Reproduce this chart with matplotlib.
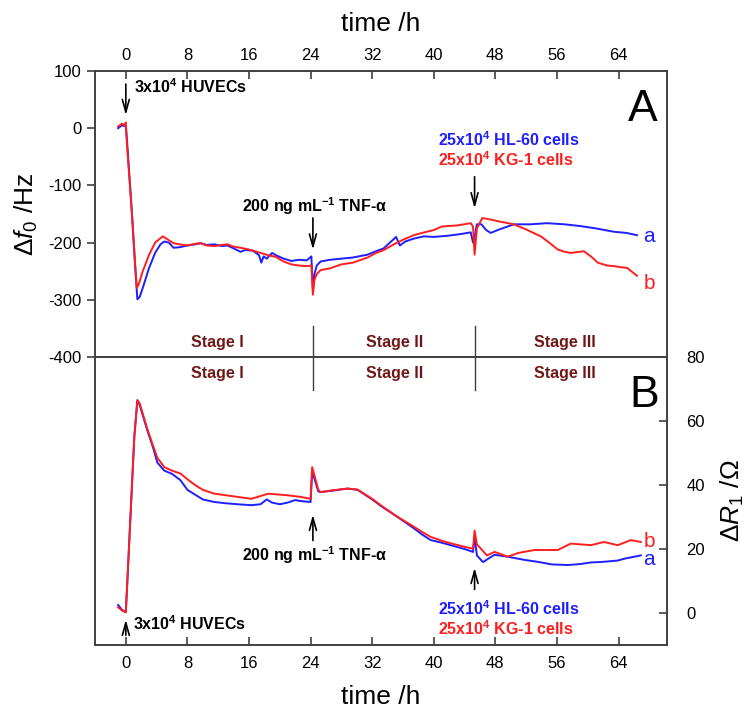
import numpy as np
import matplotlib
matplotlib.use('Agg')
import matplotlib.pyplot as plt

plt.rcParams['font.family'] = ['Liberation Sans', 'DejaVu Sans']
plt.rcParams['mathtext.fontset'] = 'custom'
plt.rcParams['mathtext.rm'] = 'Liberation Sans'
plt.rcParams['mathtext.it'] = 'Liberation Sans:italic'
plt.rcParams['mathtext.bf'] = 'Liberation Sans:bold'
plt.rcParams['axes.unicode_minus'] = False

# Panel A: frequency shift (Hz)
t_fa = [-1.0, -0.5, 0.0, 0.15, 0.4, 0.8, 1.2, 1.5, 1.8, 2.3, 3.0, 3.8, 4.5, 5.0, 5.6, 6.2,
        7.0, 8.0, 9.0, 9.7, 10.5, 11.5, 12.5, 13.2, 14.0, 14.9, 15.5, 16.5, 17.3, 17.6,
        17.9, 18.3, 19.0, 19.5, 20.5, 21.5, 22.5, 23.5, 24.1, 24.3, 24.5, 24.8, 25.3,
        26.5, 28.0, 29.5, 31.4, 32.5, 33.5, 34.3, 35.1, 35.6, 36.3, 37.4, 38.7, 40.0,
        41.8, 43.5, 44.8, 45.1, 45.3, 45.6, 46.2, 46.8, 47.4, 48.5, 50.4, 52.5, 54.7,
        57.0, 59.0, 61.0, 63.4, 65.0, 66.4]
f_a = [0, 5, 3, -20, -70, -150, -240, -299, -295, -275, -245, -218, -203, -198, -200, -209,
       -208, -205, -203, -201, -204, -203, -206, -205, -210, -216, -213, -214, -222, -235,
       -224, -228, -218, -222, -228, -232, -230, -231, -224, -283, -255, -240, -233,
       -230, -228, -226, -221, -215, -210, -200, -190, -205, -198, -193, -189, -190,
       -188, -185, -182, -200, -190, -168, -168, -178, -183, -177, -168, -168, -166,
       -168, -171, -175, -181, -183, -187]

t_fb = [-1.0, -0.5, -0.2, 0.0, 0.15, 0.4, 0.8, 1.2, 1.43, 1.7, 2.2, 3.0, 3.8, 4.8, 5.5, 6.2,
        7.0, 8.0, 9.0, 9.7, 10.5, 11.5, 12.5, 13.2, 14.0, 14.9, 16.0, 17.5, 18.5, 19.5,
        20.5, 21.5, 22.5, 23.5, 24.1, 24.3, 24.5, 24.8, 25.3, 26.5, 28.0, 29.5, 31.4,
        32.5, 33.5, 34.8, 36.0, 37.4, 38.5, 40.0, 41.0, 41.8, 43.0, 44.8, 45.1, 45.3,
        45.6, 46.3, 47.5, 48.5, 50.4, 52.0, 53.9, 55.0, 56.1, 57.0, 57.8, 59.5, 60.5,
        61.3, 62.5, 63.4, 64.3, 65.1, 66.4]
f_b = [3, 8, 5, 10, -30, -75, -150, -235, -279, -272, -250, -222, -200, -189, -195, -201,
       -203, -205, -202, -201, -205, -206, -204, -203, -207, -209, -212, -218, -222, -225,
       -233, -238, -240, -241, -240, -291, -265, -255, -248, -245, -238, -235, -226,
       -218, -213, -203, -195, -187, -183, -178, -172, -171, -170, -166, -172, -221,
       -175, -157, -160, -163, -168, -177, -189, -200, -212, -216, -218, -215, -225,
       -235, -240, -241, -243, -244, -258]

# Panel B: resistance shift (Ohm)
t_ra = [-1.0, -0.5, 0.0, 0.3, 0.7, 1.1, 1.5, 1.8, 2.3, 2.8, 3.5, 4.1, 5.0, 6.0, 7.1, 8.0,
        9.0, 10.0, 11.5, 13.0, 14.5, 16.3, 17.5, 18.3, 19.0, 20.0, 21.0, 22.0, 22.7, 24.0,
        24.2, 24.5, 25.0, 25.3, 27.0, 28.8, 30.1, 32.0, 33.1, 35.0, 37.4, 38.5, 39.6,
        41.0, 42.5, 44.0, 45.1, 45.3, 45.6, 46.4, 47.2, 47.9, 49.6, 51.8, 53.5, 55.3,
        57.4, 59.0, 60.4, 62.0, 63.9, 64.8, 66.9]
r_a = [2.5, 1.0, 0.3, 15, 35, 55, 66.5, 65, 61, 57, 52, 47, 44.5, 43.5, 41.5, 38.5,
       37, 35.5, 34.7, 34.3, 34.0, 33.7, 34.0, 35.5, 34.5, 34.0, 34.5, 35.3, 35.0, 34.7,
       44, 42, 38, 37.8, 38.3, 38.9, 38.5, 35.5, 33.5, 30.5, 26.5, 24.5, 22.8,
       22.0, 21.0, 20.0, 19.1, 24.0, 18.0, 15.9, 17.2, 18.2, 17.6, 16.6, 16.0, 15.2,
       15.0, 15.3, 15.8, 16.0, 16.4, 17.0, 18.0]

t_rb = [-1.0, -0.5, 0.0, 0.3, 0.7, 1.1, 1.5, 1.8, 2.3, 2.8, 3.5, 4.1, 5.0, 6.0, 7.1, 8.0,
        9.0, 10.0, 11.5, 13.0, 14.5, 16.3, 17.0, 18.5, 20.0, 21.0, 22.7, 24.0, 24.2,
        24.5, 25.0, 25.3, 27.0, 28.8, 30.1, 32.0, 33.1, 35.0, 37.4, 38.5, 39.6, 41.0,
        42.5, 44.0, 45.1, 45.3, 45.6, 46.9, 47.9, 48.6, 49.6, 51.0, 53.1, 56.1, 57.8,
        60.4, 62.1, 63.9, 65.6, 66.9]
r_b = [1.8, 0.8, 0.2, 15, 35, 55, 66.5, 65.5, 61.5, 57.5, 52.5, 48.5, 45.6, 44.5, 43.6, 41.8,
       40.0, 38.5, 37.3, 36.8, 36.3, 35.7, 36.2, 37.3, 37.0, 36.8, 36.3, 35.7, 45.6,
       43.0, 38.5, 37.8, 38.4, 38.9, 38.6, 35.7, 33.7, 30.5, 27.0, 25.3, 23.8, 22.6,
       21.6, 20.7, 20.1, 25.8, 21.5, 18.0, 19.1, 18.5, 17.6, 18.8, 19.7, 19.7, 21.7,
       21.2, 22.2, 21.2, 22.8, 22.2]

time_ticks = [0, 8, 16, 24, 32, 40, 48, 56, 64]
stage_names = ['Stage I', 'Stage II', 'Stage III']
stage_x = [11.9, 34.9, 57.0]
events = [0, 24.3, 45.3]

blue = '#1e1eff'
red = '#ff1e1e'
stage_col = '#701818'
spine_col = '#404040'

fig = plt.figure(figsize=(7.5, 7.17), dpi=100)
ax1 = fig.add_axes([0.1267, 0.502, 0.7627, 0.399])
ax2 = fig.add_axes([0.1267, 0.1004, 0.7627, 0.4016])

for ax in (ax1, ax2):
    ax.set_xlim(-4, 70.3)
    ax.set_xticks(time_ticks)
    for s in ax.spines.values():
        s.set_color(spine_col)
        s.set_linewidth(1.4)
    ax.tick_params(colors='black', labelsize=12, length=6, width=1.2)
    ax.tick_params(axis='both', color=spine_col)

# ---- panel A ----
ax1.plot(t_fa, f_a, color=blue, lw=1.4)
ax1.plot(t_fb, f_b, color=red, lw=1.4)
ax1.set_ylim(-400, 100)
ax1.set_yticks([-400, -300, -200, -100, 0, 100])
ax1.xaxis.tick_top()
ax1.xaxis.set_label_position('top')
ax1.tick_params(axis='x', direction='in', pad=6)
ax1.tick_params(axis='y', direction='out', left=True, right=False)
ax1.set_xlabel('time /h', fontsize=19, labelpad=12)
ax1.set_ylabel('Δ$f_0$ /Hz', fontsize=19, labelpad=6)

bold = dict(fontsize=11.5, fontweight='bold')
arw = dict(arrowstyle='->,head_length=0.9,head_width=0.25', color='black', lw=1.2)

ax1.annotate('', xy=(0, 18), xytext=(0, 82), arrowprops=arw)
ax1.text(1.0, 72, r'3x10$^\mathbf{4}$ HUVECs', ha='left', va='center', **bold)
ax1.annotate('', xy=(24.3, -217), xytext=(24.3, -152), arrowprops=arw)
ax1.text(24.5, -136, r'200 ng mL$^\mathbf{-1}$ TNF-α', ha='center', va='center', **bold)
ax1.annotate('', xy=(45.3, -145), xytext=(45.3, -80), arrowprops=arw)
ax1.text(40.5, -20, r'25x10$^\mathbf{4}$ HL-60 cells', color=blue, ha='left', va='center', **bold)
ax1.text(40.5, -55, r'25x10$^\mathbf{4}$ KG-1 cells', color=red, ha='left', va='center', **bold)
ax1.text(67.1, 33, 'A', fontsize=32, ha='center', va='center')
ax1.text(68.0, -190, 'a', color=blue, fontsize=15, ha='center', va='center')
ax1.text(68.0, -271, 'b', color=red, fontsize=15, ha='center', va='center')
for name, x in zip(stage_names, stage_x):
    ax1.text(x, -375, name, color=stage_col, ha='center', va='center', **bold)
for x in events[1:]:
    ax1.plot([x, x], [-346, -400], color=spine_col, lw=1.0)

# ---- panel B ----
ax2.plot(t_ra, r_a, color=blue, lw=1.4)
ax2.plot(t_rb, r_b, color=red, lw=1.4)
ax2.set_ylim(-10, 80)
ax2.set_yticks([0, 20, 40, 60, 80])
ax2.yaxis.tick_right()
ax2.yaxis.set_label_position('right')
ax2.tick_params(axis='y', direction='in', pad=14)
ax2.tick_params(axis='x', direction='in', pad=8)
ax2.set_xlabel('time /h', fontsize=19, labelpad=10)
ax2.set_ylabel('Δ$R_1$ /Ω', fontsize=19, labelpad=10)

ax2.annotate('', xy=(0, -1.2), xytext=(0, -7.8), arrowprops=arw)
ax2.text(0.9, -3.3, r'3x10$^\mathbf{4}$ HUVECs', ha='left', va='center', **bold)
ax2.annotate('', xy=(24.3, 31.6), xytext=(24.3, 21.8), arrowprops=arw)
ax2.text(24.5, 18, r'200 ng mL$^\mathbf{-1}$ TNF-α', ha='center', va='center', **bold)
ax2.annotate('', xy=(45.3, 15.0), xytext=(45.3, 6.5), arrowprops=arw)
ax2.text(40.5, 1.4, r'25x10$^\mathbf{4}$ HL-60 cells', color=blue, ha='left', va='center', **bold)
ax2.text(40.5, -4.9, r'25x10$^\mathbf{4}$ KG-1 cells', color=red, ha='left', va='center', **bold)
ax2.text(67.3, 68, 'B', fontsize=32, ha='center', va='center')
ax2.text(68.0, 22.4, 'b', color=red, fontsize=15, ha='center', va='center')
ax2.text(68.0, 16.8, 'a', color=blue, fontsize=15, ha='center', va='center')
for name, x in zip(stage_names, stage_x):
    ax2.text(x, 74.8, name, color=stage_col, ha='center', va='center', **bold)
for x in events[1:]:
    ax2.plot([x, x], [80, 69.6], color=spine_col, lw=1.0)

fig.savefig('out.png', dpi=100)
